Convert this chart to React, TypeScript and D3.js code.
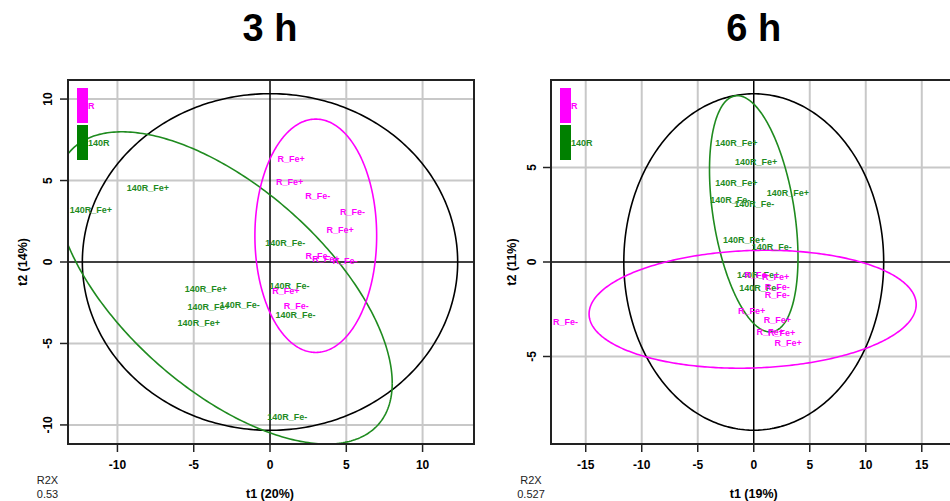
import * as d3 from 'd3';

// ---- data ----
const titles = ['3 h', '6 h'];
const xAxisTitles = ['t1 (20%)', 't1 (19%)'];
const yAxisTitles = ['t2 (14%)', 't2 (11%)'];
const r2xValues = ['0.53', '0.527'];

const leftXTicks = [-10, -5, 0, 5, 10];
const leftYTicks = [-10, -5, 0, 5, 10];
const rightXTicks = [-15, -10, -5, 0, 5, 10, 15];
const rightYTicks = [-5, 0, 5];

// 3 h, group 140R
const left140Labels = ['140R_Fe+', '140R_Fe+', '140R_Fe-', '140R_Fe+', '140R_Fe+', '140R_Fe-', '140R_Fe+', '140R_Fe-', '140R_Fe-', '140R_Fe-'];
const left140T1 = [-8.0, -11.74, 1.0, -4.21, -4.03, -1.99, -4.67, 1.28, 1.67, 1.13];
const left140T2 = [4.52, 3.19, 1.19, -1.68, -2.74, -2.64, -3.72, -1.45, -3.25, -9.53];
// 3 h, group R
const leftRLabels = ['R_Fe+', 'R_Fe+', 'R_Fe-', 'R_Fe-', 'R_Fe+', 'R_Fe-', 'R_Fe+', 'R_Fe-', 'R_Fe+', 'R_Fe-'];
const leftRT1 = [1.39, 1.28, 3.13, 5.41, 4.59, 3.15, 3.66, 4.91, 1.04, 1.72];
const leftRT2 = [6.34, 4.91, 4.07, 3.05, 1.96, 0.39, 0.17, 0.08, -1.76, -2.7];

// 6 h, group 140R
const right140Labels = ['140R_Fe+', '140R_Fe+', '140R_Fe+', '140R_Fe+', '140R_Fe-', '140R_Fe-', '140R_Fe+', '140R_Fe-', '140R_Fe+', '140R_Fe-'];
const right140T1 = [-1.56, 0.22, -1.56, 3.04, -2.1, 0.04, -0.85, 1.6, 0.4, 0.5];
const right140T2 = [6.3, 5.3, 4.2, 3.65, 3.3, 3.07, 1.16, 0.8, -0.7, -1.4];
// 6 h, group R
const rightRLabels = ['R_Fe-', 'R_Fe-', 'R_Fe+', 'R_Fe-', 'R_Fe-', 'R_Fe+', 'R_Fe+', 'R_Fe+', 'R_Fe+', 'R_Fe+'];
const rightRT1 = [-16.8, 0.3, 1.96, 2.1, 2.1, -0.18, 2.1, 1.47, 2.5, 3.08];
const rightRT2 = [-3.2, -0.69, -0.79, -1.32, -1.75, -2.6, -3.07, -3.7, -3.75, -4.29];

// ellipses: centre, half-width, half-height, correlation
const leftHotelling = { cx: 0, cy: 0, sx: 12.3, sy: 10.33, r: 0 };
const left140Ellipse = { cx: -3.0, cy: -1.59, sx: 11.01, sy: 9.58, r: -0.61 };
const leftREllipse = { cx: 3.0, cy: 1.61, sx: 3.99, sy: 7.16, r: 0 };
const rightHotelling = { cx: 0, cy: 0, sx: 11.6, sy: 8.9, r: 0 };
const right140Ellipse = { cx: 0.0, cy: 2.55, sx: 3.95, sy: 6.25, r: -0.37 };
const rightREllipse = { cx: -0.1, cy: -2.5, sx: 14.6, sy: 3.12, r: 0.08 };

const groups = ['R', '140R'];

const FONT = '"Liberation Sans", Arial, Helvetica, sans-serif';
const GREEN = '#1f8b1f';
const GREEN_DARK = '#008000';
const MAGENTA = '#ff00ff';
const GRID = '#c8c8c8';

interface Ell { cx: number; cy: number; sx: number; sy: number; r: number }

function ellipsePath(e: Ell, x: d3.ScaleLinear<number, number>, y: d3.ScaleLinear<number, number>) {
  const s = Math.sqrt(1 - e.r * e.r);
  const pts: [number, number][] = d3.range(0, 361).map((i) => {
    const t = (i * Math.PI) / 180;
    return [x(e.cx + e.sx * Math.cos(t)), y(e.cy + e.sy * (e.r * Math.cos(t) + s * Math.sin(t)))];
  });
  return d3.line()(pts) || '';
}

interface PanelProps {
  id: string;
  title: string;
  xTitle: string;
  yTitle: string;
  r2x: string;
  xDomain: [number, number];
  xRange: [number, number];
  yDomain: [number, number];
  xTicks: number[];
  yTicks: number[];
  g140: { labels: string[]; t1: number[]; t2: number[] };
  gR: { labels: string[]; t1: number[]; t2: number[] };
  ellipses: { e: Ell; color: string }[];
  yTitleX: number;
  yTickX: number;
  r2xX: number;
}

function Panel(p: PanelProps) {
  const top = 80;
  const bottom = 444;
  const x = d3.scaleLinear().domain(p.xDomain).range(p.xRange);
  const y = d3.scaleLinear().domain(p.yDomain).range([bottom, top]);
  const [x0, x1] = p.xRange;
  const midX = x(0);
  const midY = (top + bottom) / 2;

  return (
    <g>
      <defs>
        <clipPath id={`clip-${p.id}`}>
          <rect x={x0} y={top} width={x1 - x0} height={bottom - top} />
        </clipPath>
      </defs>
      <text x={midX} y={41} textAnchor="middle" fontSize={38} fontWeight="bold" fontFamily={FONT}>
        {p.title}
      </text>

      {/* grid */}
      {p.xTicks.filter((t) => t !== 0).map((t) => (
        <line key={`gx${t}`} x1={x(t)} x2={x(t)} y1={top} y2={bottom} stroke={GRID} strokeWidth={2} />
      ))}
      {p.yTicks.filter((t) => t !== 0).map((t) => (
        <line key={`gy${t}`} x1={x0} x2={x1} y1={y(t)} y2={y(t)} stroke={GRID} strokeWidth={2} />
      ))}
      <line x1={x(0)} x2={x(0)} y1={top} y2={bottom} stroke="#000" strokeWidth={1.5} />
      <line x1={x0} x2={x1} y1={y(0)} y2={y(0)} stroke="#000" strokeWidth={1.5} />

      <g clipPath={`url(#clip-${p.id})`}>
        {p.ellipses.map((d, i) => (
          <path key={i} d={ellipsePath(d.e, x, y)} fill="none" stroke={d.color} strokeWidth={1.6} />
        ))}
        <g fontFamily={FONT} fontSize={9} fontWeight="bold" textAnchor="middle" dominantBaseline="central">
          {p.g140.labels.map((l, i) => (
            <text key={`g${i}`} x={x(p.g140.t1[i])} y={y(p.g140.t2[i])} fill={GREEN}>{l}</text>
          ))}
          {p.gR.labels.map((l, i) => (
            <text key={`r${i}`} x={x(p.gR.t1[i])} y={y(p.gR.t2[i])} fill={MAGENTA}>{l}</text>
          ))}
        </g>
      </g>

      {/* legend */}
      {groups.map((gname, i) => (
        <g key={gname}>
          <rect x={x0 + 9} y={88 + i * 37} width={11} height={35} fill={i === 0 ? MAGENTA : GREEN_DARK} />
          <text x={x0 + 20} y={88 + i * 37 + 18} dominantBaseline="central" fontSize={9} fontWeight="bold"
            fontFamily={FONT} fill={i === 0 ? MAGENTA : GREEN}>{gname}</text>
        </g>
      ))}

      <rect x={x0} y={top} width={x1 - x0} height={bottom - top} fill="none" stroke="#222" strokeWidth={2} />

      {/* x axis */}
      {p.xTicks.map((t) => (
        <g key={`xt${t}`}>
          <line x1={x(t)} x2={x(t)} y1={bottom} y2={bottom + 8} stroke="#222" strokeWidth={1.5} />
          <text x={x(t)} y={469} textAnchor="middle" fontSize={12} fontWeight="bold" fontFamily={FONT}>{t}</text>
        </g>
      ))}
      <text x={midX} y={498} textAnchor="middle" fontSize={12.5} fontWeight="bold" fontFamily={FONT}>{p.xTitle}</text>

      {/* y axis */}
      {p.yTicks.map((t) => (
        <g key={`yt${t}`}>
          <line x1={x0 - 8} x2={x0} y1={y(t)} y2={y(t)} stroke="#222" strokeWidth={1.5} />
          <text transform={`translate(${p.yTickX},${y(t)}) rotate(-90)`} textAnchor="middle" fontSize={12}
            fontWeight="bold" fontFamily={FONT}>{t}</text>
        </g>
      ))}
      <text transform={`translate(${p.yTitleX},${midY}) rotate(-90)`} textAnchor="middle" fontSize={12.5}
        fontWeight="bold" fontFamily={FONT}>{p.yTitle}</text>

      <g fontFamily={FONT} fontSize={11} textAnchor="middle" fill="#222">
        <text x={p.r2xX} y={484}>R2X</text>
        <text x={p.r2xX} y={498}>{p.r2x}</text>
      </g>
    </g>
  );
}

export default function App() {
  return (
    <div style={{ position: 'absolute', left: 0, top: 0 }}>
      <svg width={950} height={501} style={{ display: 'block', background: '#fff' }}>
        <Panel
          id="a"
          title={titles[0]}
          xTitle={xAxisTitles[0]}
          yTitle={yAxisTitles[0]}
          r2x={r2xValues[0]}
          xDomain={[-13.24, 13.37]}
          xRange={[68, 474]}
          yDomain={[-11.17, 11.17]}
          xTicks={leftXTicks}
          yTicks={leftYTicks}
          g140={{ labels: left140Labels, t1: left140T1, t2: left140T2 }}
          gR={{ labels: leftRLabels, t1: leftRT1, t2: leftRT2 }}
          ellipses={[
            { e: leftHotelling, color: '#000' },
            { e: left140Ellipse, color: GREEN },
            { e: leftREllipse, color: MAGENTA },
          ]}
          yTitleX={27}
          yTickX={52}
          r2xX={47.5}
        />
        <Panel
          id="b"
          title={titles[1]}
          xTitle={xAxisTitles[1]}
          yTitle={yAxisTitles[1]}
          r2x={r2xValues[1]}
          xDomain={[-18.1, 18.1]}
          xRange={[551, 956.5]}
          yDomain={[-9.63, 9.63]}
          xTicks={rightXTicks}
          yTicks={rightYTicks}
          g140={{ labels: right140Labels, t1: right140T1, t2: right140T2 }}
          gR={{ labels: rightRLabels, t1: rightRT1, t2: rightRT2 }}
          ellipses={[
            { e: rightHotelling, color: '#000' },
            { e: right140Ellipse, color: GREEN },
            { e: rightREllipse, color: MAGENTA },
          ]}
          yTitleX={516}
          yTickX={536}
          r2xX={531}
        />
      </svg>
    </div>
  );
}
